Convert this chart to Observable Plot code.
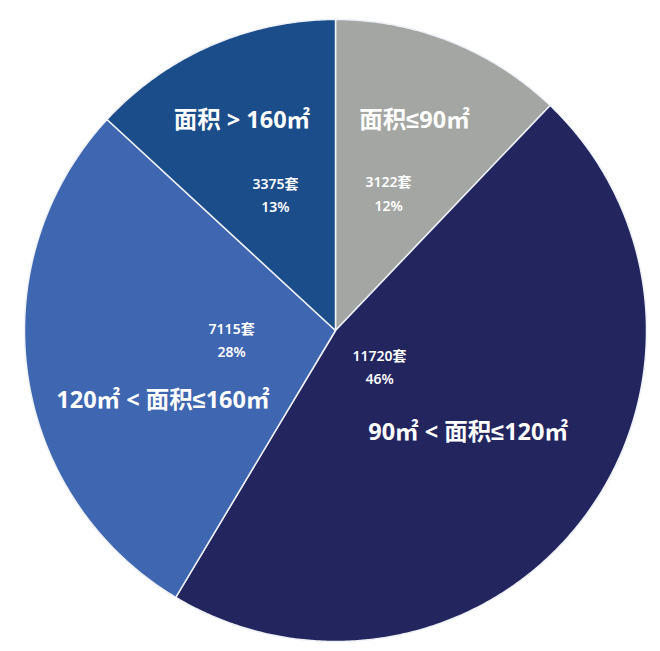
<!DOCTYPE html>
<html>
<head>
<meta charset="utf-8">
<script src="https://cdn.jsdelivr.net/npm/d3@7"></script>
<script src="https://cdn.jsdelivr.net/npm/@observablehq/plot@0.6"></script>
<style>
  html, body { margin: 0; padding: 0; background: #ffffff; }
  #chart { width: 660px; height: 651px; }
</style>
</head>
<body>
<div id="chart"></div>
<script>
// ---- data ----
const categories = ["面积≤90㎡", "90㎡ < 面积≤120㎡", "120㎡ < 面积≤160㎡", "面积 > 160㎡"];
const counts = [3122, 11720, 7115, 3375];
const percents = [12, 46, 28, 13];
const countUnit = "套";

// ---- layout (code, not data) ----
const sliceColors = ["#a4a6a3", "#23255f", "#3f66b1", "#1b4d8a"];
// label placement relative to each slice's mid angle: [angle offset (deg), radius fraction]
const titleLayout = [[-1.2, 0.7215], [0.3, 0.538], [-13.9, 0.599], [-0.4, 0.739]];
const countLayout = [[-0.9, 0.478], [1.2, 0.181], [3.8, 0.335], [0.0, 0.482]];

const arcs = d3.pie().sort(null).value(d => d)(percents);

const rows = categories.map((c, i) => ({cat: c, count: counts[i], pct: percents[i], arc: arcs[i]}));

const step = Math.PI / 360;
const points = [];
for (const r of rows) {
  points.push({cat: r.cat, x: 0, y: 0});
  const a0 = r.arc.startAngle, a1 = r.arc.endAngle;
  const n = Math.max(2, Math.ceil((a1 - a0) / step));
  for (let k = 0; k <= n; k++) {
    const a = a0 + (a1 - a0) * k / n;
    points.push({cat: r.cat, x: Math.sin(a), y: Math.cos(a)});
  }
}

const polar = (r, layout, i) => {
  const mid = (r.arc.startAngle + r.arc.endAngle) / 2 + layout[i][0] * Math.PI / 180;
  return {x: layout[i][1] * Math.sin(mid), y: layout[i][1] * Math.cos(mid)};
};

const titles = rows.map((r, i) => ({...polar(r, titleLayout, i), text: r.cat}));
const countLabels = rows.map((r, i) => ({...polar(r, countLayout, i), text: `${r.count}${countUnit}\n${r.pct}%`}));

const font = "'Noto Sans', 'Liberation Sans', 'Noto Sans CJK SC', sans-serif";

const chart = Plot.plot({
  width: 660,
  height: 651,
  marginLeft: 24,
  marginRight: 14,
  marginTop: 19,
  marginBottom: 10,
  x: {domain: [-1, 1], axis: null},
  y: {domain: [-1, 1], axis: null},
  color: {domain: categories, range: sliceColors},
  style: {fontFamily: font, background: "#ffffff"},
  marks: [
    Plot.line(points, {
      x: "x", y: "y", z: "cat", fill: "cat",
      stroke: "#eef1f7", strokeWidth: 1.5, strokeLinejoin: "round",
      curve: "linear-closed"
    }),
    Plot.text(titles, {
      x: "x", y: "y", text: "text",
      fill: "#ffffff", fontSize: 23.5, fontWeight: "bold", fontFamily: font
    }),
    Plot.text(countLabels, {
      x: "x", y: "y", text: "text",
      fill: "#ffffff", fontSize: 14, fontWeight: 600, lineHeight: 1.65, fontFamily: font
    })
  ]
});

document.getElementById("chart").appendChild(chart);
</script>
</body>
</html>
